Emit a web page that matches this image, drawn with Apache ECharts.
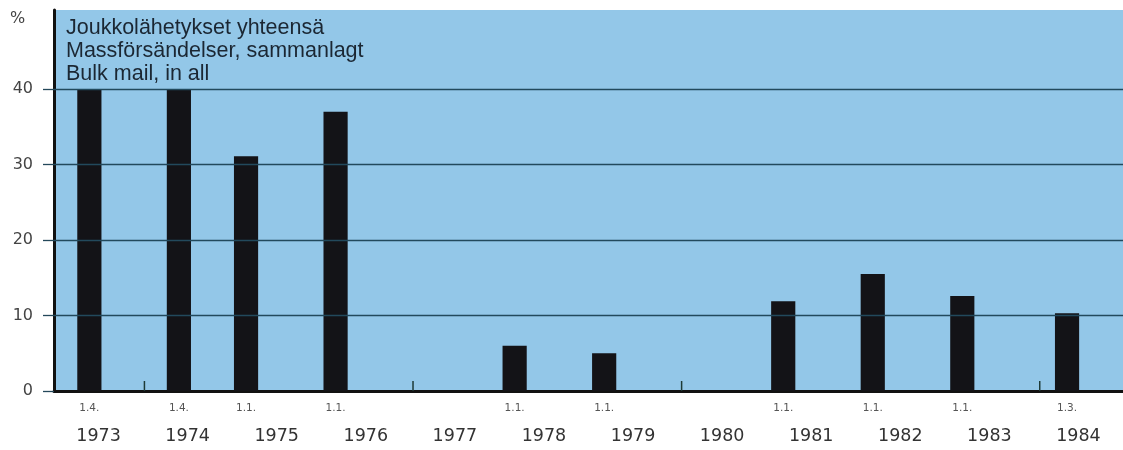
<!DOCTYPE html>
<html>
<head>
<meta charset="utf-8">
<script src="https://cdn.jsdelivr.net/npm/echarts@6/dist/echarts.min.js"></script>
<style>
  html, body { margin: 0; padding: 0; background: #ffffff; }
  #chart { width: 1123px; height: 450px; }
</style>
</head>
<body>
<div id="chart"></div>
<script>
// year labels (one per year band)
const years = ['1973', '1974', '1975', '1976', '1977', '1978', '1979', '1980', '1981', '1982', '1983', '1984']
// bar start dates (decimal year) and values in %
const barDates = [1973.25, 1974.25, 1975.0, 1976.0, 1978.0, 1979.0, 1981.0, 1982.0, 1983.0, 1984.17]
const barValues = [40, 40, 31.1, 37.0, 6.0, 5.0, 11.9, 15.5, 12.6, 10.3]
const dateLabels = ['1.4.', '1.4.', '1.1.', '1.1.', '1.1.', '1.1.', '1.1.', '1.1.', '1.1.', '1.3.']
// small marks on the base line
const baseTicks = [1974, 1977, 1980, 1984]
// y axis ticks
const yTicks = [0, 10, 20, 30, 40]

const titleLines = ['Joukkolähetykset yhteensä', 'Massförsändelser, sammanlagt', 'Bulk mail, in all']

const BAR_SPAN = 0.27 // bar width in years

const chart = echarts.init(document.getElementById('chart'))

const option = {
  backgroundColor: '#ffffff',
  animation: false,
  title: [
    {
      text: titleLines.join('\n'),
      left: 66,
      top: 17,
      padding: 0,
      textStyle: {
        fontFamily: 'Liberation Sans, Arial, sans-serif',
        fontSize: 21.5,
        fontWeight: 'normal',
        lineHeight: 23,
        color: '#1b2733'
      }
    },
    {
      text: '%',
      left: 10,
      top: 11,
      padding: 0,
      textStyle: {
        fontFamily: 'DejaVu Sans, sans-serif',
        fontSize: 16,
        fontWeight: 'normal',
        color: '#444'
      }
    }
  ],
  grid: {
    left: 54,
    right: 0,
    top: 10,
    bottom: 59,
    show: true,
    backgroundColor: '#93c7e8',
    borderWidth: 0
  },
  xAxis: [
    {
      type: 'value',
      min: 1972.99,
      max: 1984.93,
      axisLine: { show: true, onZero: false, lineStyle: { color: '#111', width: 3 } },
      axisTick: { show: false },
      axisLabel: { show: false },
      splitLine: { show: false }
    },
    {
      type: 'category',
      data: years,
      position: 'bottom',
      boundaryGap: true,
      axisLine: { show: false },
      axisTick: { show: false },
      splitLine: { show: false },
      axisLabel: {
        margin: 36,
        fontFamily: 'DejaVu Sans, sans-serif',
        fontSize: 17.5,
        color: '#333'
      }
    }
  ],
  yAxis: {
    type: 'value',
    min: 0,
    max: 50.5,
    interval: 10,
    axisLine: { show: true, lineStyle: { color: '#111', width: 3 } },
    axisTick: {
      show: true,
      length: 11,
      customValues: yTicks,
      lineStyle: { color: '#24485a', width: 1.3 }
    },
    axisLabel: {
      margin: 21,
      customValues: yTicks,
      fontFamily: 'DejaVu Sans, sans-serif',
      fontSize: 16,
      color: '#444'
    },
    splitLine: { show: false }
  },
  series: [
    {
      // horizontal grid lines
      type: 'line',
      data: [],
      silent: true,
      markLine: {
        symbol: 'none',
        silent: true,
        label: { show: false },
        lineStyle: { color: '#22495c', width: 1.3, type: 'solid' },
        data: yTicks.filter(v => v > 0).map(v => ({ yAxis: v }))
      }
    },
    {
      name: 'Bulk mail',
      type: 'custom',
      xAxisIndex: 0,
      clip: false,
      data: barDates.map((d, i) => [d, barValues[i]]),
      renderItem: (params, api) => {
        const x0 = api.value(0)
        const v = api.value(1)
        const top = api.coord([x0, v])
        const bottom = api.coord([x0 + BAR_SPAN, 0])
        return {
          type: 'group',
          children: [
            {
              type: 'rect',
              shape: { x: top[0], y: top[1], width: bottom[0] - top[0], height: bottom[1] - top[1] },
              style: { fill: '#131317' }
            },
            {
              type: 'text',
              x: (top[0] + bottom[0]) / 2,
              y: bottom[1] + 12,
              style: {
                text: dateLabels[params.dataIndex],
                align: 'center',
                verticalAlign: 'top',
                fontFamily: 'DejaVu Sans, sans-serif',
                fontSize: 10.5,
                fill: '#555'
              }
            }
          ]
        }
      }
    },
    {
      // small marks on the base line
      type: 'custom',
      xAxisIndex: 0,
      clip: false,
      data: baseTicks.map(t => [t, 0]),
      renderItem: (params, api) => {
        const p = api.coord([api.value(0), 0])
        return {
          type: 'line',
          shape: { x1: p[0], y1: p[1], x2: p[0], y2: p[1] - 10 },
          style: { stroke: '#1d3a36', lineWidth: 1.5 }
        }
      }
    }
  ]
}

chart.setOption(option)
</script>
</body>
</html>
